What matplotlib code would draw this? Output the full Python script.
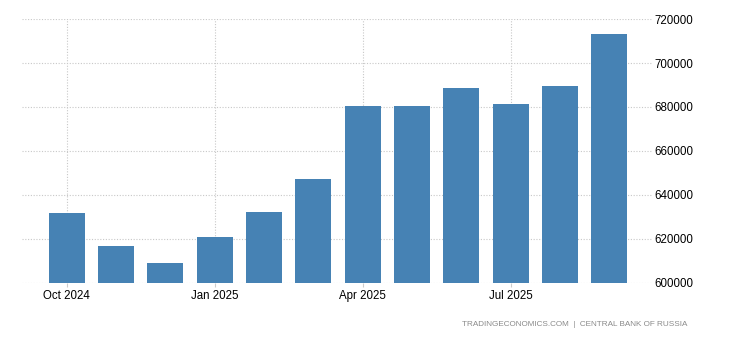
import numpy as np
import matplotlib.pyplot as plt

plt.rcParams['font.family'] = ['Liberation Sans', 'DejaVu Sans']

months = ['Oct 2024', 'Nov 2024', 'Dec 2024', 'Jan 2025', 'Feb 2025', 'Mar 2025',
          'Apr 2025', 'May 2025', 'Jun 2025', 'Jul 2025', 'Aug 2025', 'Sep 2025']
values = [631800, 616800, 609100, 620900, 632300, 647300,
          680500, 680500, 688600, 681400, 689500, 713200]
tick_idx = [0, 3, 6, 9]
yticks = [600000, 620000, 640000, 660000, 680000, 700000, 720000]

fig = plt.figure(figsize=(7.3, 3.4), dpi=100)
ax = fig.add_axes([0.030, 0.168, 0.865, 0.776])

x = np.arange(len(values))
ax.bar(x, values, width=0.73, color='#4682b4', zorder=2)

ax.set_xlim(-0.91, 11.89)
ax.set_ylim(600000, 720000)
ax.set_xticks(tick_idx)
ax.set_xticklabels([months[i] for i in tick_idx])
ax.set_yticks(yticks)
ax.set_yticklabels([str(v) for v in yticks])
ax.yaxis.tick_right()
ax.tick_params(axis='y', length=0, pad=1, labelsize=8.3)
ax.tick_params(axis='x', length=3, color='#cccccc', pad=2, labelsize=8.3)
ax.grid(True, color='#c8c8c8', linestyle=(0, (1, 1.5)), linewidth=0.8, zorder=0)
for s in ax.spines.values():
    s.set_visible(False)

fig.text(0.941, 0.045, 'TRADINGECONOMICS.COM  |  CENTRAL BANK OF RUSSIA',
         ha='right', va='center', fontsize=5.9, color='#8a8a8a')

fig.savefig('out.png', dpi=100)
